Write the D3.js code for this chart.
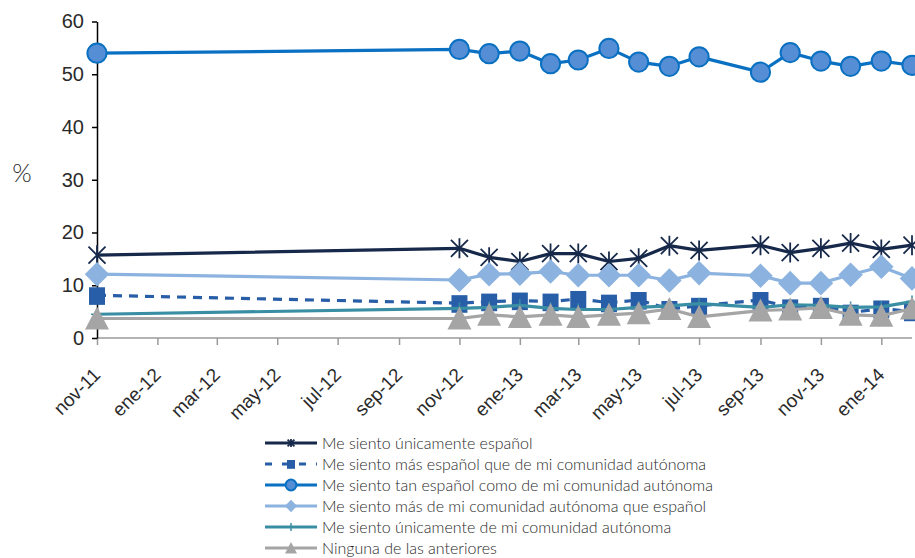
<!DOCTYPE html>
<html>
<head>
<meta charset="utf-8">
<script src="https://cdn.jsdelivr.net/npm/d3@7"></script>
<style>
  body { margin: 0; background: #fff; }
  svg { display: block; font-family: Lato, "Open Sans", sans-serif; font-weight: 300; }
</style>
</head>
<body>
<div id="chart"></div>
<script>
// survey months (CIS barometers)
const months = ["2011-11", "2012-11", "2012-12", "2013-01", "2013-02", "2013-03", "2013-04", "2013-05",
    "2013-06", "2013-07", "2013-09", "2013-10", "2013-11", "2013-12", "2014-01", "2014-02"];

const soloEspanol   = [15.7, 17.0, 15.3, 14.5, 16.0, 16.0, 14.5, 15.1, 17.5, 16.6, 17.6, 16.2, 17.0, 18.0, 16.8, 17.6];
const masEspanol    = [8.1, 6.6, 6.9, 7.1, 6.9, 7.4, 6.7, 7.2, 5.5, 6.1, 7.2, 5.8, 6.1, 4.8, 5.6, 5.0];
const tanEspanol    = [54.0, 54.7, 53.9, 54.4, 52.0, 52.7, 54.9, 52.3, 51.5, 53.3, 50.4, 54.1, 52.5, 51.5, 52.5, 51.7];
const masComunidad  = [12.1, 11.0, 12.1, 12.2, 12.6, 11.9, 11.9, 11.9, 10.9, 12.3, 11.8, 10.4, 10.4, 12.0, 13.5, 11.3];
const soloComunidad = [4.5, 5.6, 5.8, 6.2, 5.6, 5.4, 5.4, 5.8, 6.1, 6.5, 5.8, 6.3, 6.2, 5.8, 5.9, 6.9];
const ninguna       = [3.7, 3.7, 4.4, 4.0, 4.4, 4.0, 4.4, 4.7, 5.5, 4.0, 5.2, 5.4, 5.7, 4.4, 4.2, 5.6];

const tickLabels = ["nov-11", "ene-12", "mar-12", "may-12", "jul-12", "sep-12", "nov-12",
    "ene-13", "mar-13", "may-13", "jul-13", "sep-13", "nov-13", "ene-14"];
const yTicks = [0, 10, 20, 30, 40, 50, 60];

const series = [
    { name: "Me siento únicamente español", values: soloEspanol, color: "#17294a", marker: "star", dash: null },
    { name: "Me siento tan español como de mi comunidad autónoma", values: tanEspanol, color: "#0a70c2", marker: "circle", dash: null },
    { name: "Me siento más de mi comunidad autónoma que español", values: masComunidad, color: "#8cb3e0", marker: "diamond", dash: null },
    { name: "Me siento más español que de mi comunidad autónoma", values: masEspanol, color: "#285ea8", marker: "square", dash: "9,7" },
    { name: "Me siento únicamente de mi comunidad autónoma", values: soloComunidad, color: "#3a8ea3", marker: "plus", dash: null },
    { name: "Ninguna de las anteriores", values: ninguna, color: "#a5a5a5", marker: "triangle", dash: null }
];
const legendOrder = [0, 3, 1, 2, 4, 5];

const width = 915, height = 558;
const parseMonth = d3.timeParse("%Y-%m");
const dates = months.map(parseMonth);

const x = d3.scaleTime()
    .domain([parseMonth("2011-11"), parseMonth("2014-02")])
    .range([97, 912]);
const y = d3.scaleLinear().domain([0, 60]).range([338, 21.5]);

const svg = d3.select("#chart").append("svg")
    .attr("width", width)
    .attr("height", height);

// x axis
const tickDates = tickLabels.map((t, i) => d3.timeMonth.offset(parseMonth("2011-11"), i * 2));
const xAxis = svg.append("g")
    .attr("transform", `translate(0,${y(0)})`)
    .call(d3.axisBottom(x).tickValues(tickDates).tickSize(7).tickFormat((d, i) => tickLabels[i]));
xAxis.select(".domain").attr("stroke", "#9a9a9a").attr("stroke-width", 1.5)
    .attr("d", `M${x.range()[0]},0H${x.range()[1]}`);
xAxis.selectAll(".tick line").attr("stroke", "#9a9a9a").attr("stroke-width", 1.5);
xAxis.selectAll(".tick text")
    .attr("fill", "#2a2a2a")
    .style("font-size", "19px")
    .attr("text-anchor", "end")
    .attr("y", 0).attr("dx", 0).attr("dy", 0)
    .attr("transform", "translate(4,38) rotate(-45)");

// y axis
const yAxis = svg.append("g")
    .attr("transform", `translate(${x.range()[0]},0)`)
    .call(d3.axisLeft(y).tickValues(yTicks).tickSize(5).tickSizeOuter(0));
yAxis.select(".domain").attr("stroke", "#000").attr("stroke-width", 1.5);
yAxis.selectAll(".tick line").attr("stroke", "#000").attr("stroke-width", 1.5);
yAxis.selectAll(".tick text")
    .attr("fill", "#2a2a2a")
    .attr("x", -13)
    .style("font-size", "20px");

svg.append("text")
    .attr("x", 22).attr("y", 182)
    .attr("text-anchor", "middle")
    .attr("fill", "#2a2a2a")
    .style("font-size", "25px")
    .text("%");

// marker drawing
function drawMarker(g, type, color, s) {
    if (type === "circle") {
        g.append("circle").attr("r", s * 0.6).attr("fill", "#558ed5").attr("stroke", color).attr("stroke-width", 2);
    } else if (type === "square") {
        g.append("rect").attr("x", -s / 2).attr("y", -s / 2).attr("width", s).attr("height", s * 1.1).attr("fill", color);
    } else if (type === "diamond") {
        g.append("path").attr("d", d3.symbol(d3.symbolDiamond2, s * s * 1.5)).attr("fill", color);
    } else if (type === "triangle") {
        const h = s * 1.25;
        g.append("path").attr("d", `M0,${-h * 0.6}L${h * 0.6},${h * 0.55}L${-h * 0.6},${h * 0.55}Z`).attr("fill", color);
    } else if (type === "plus") {
        const r = s / 2;
        g.append("path").attr("d", `M${-r},0H${r}M0,${-r}V${r}`).attr("stroke", color).attr("stroke-width", 1.5);
    } else if (type === "star") {
        const r = s / 2;
        g.append("path")
            .attr("d", `M0,${-r}V${r}M${-r * 0.85},${-r * 0.85}L${r * 0.85},${r * 0.85}M${-r * 0.85},${r * 0.85}L${r * 0.85},${-r * 0.85}`)
            .attr("stroke", color).attr("stroke-width", 1.8).attr("fill", "none");
    }
}

const line = d3.line().x(d => x(d.date)).y(d => y(d.value));

const plot = svg.append("g");
series.forEach(s => {
    const pts = s.values.map((v, i) => ({ date: dates[i], value: v }));
    plot.append("path")
        .datum(pts)
        .attr("fill", "none")
        .attr("stroke", s.color)
        .attr("stroke-width", 3.2)
        .attr("stroke-linejoin", "round")
        .attr("stroke-dasharray", s.dash)
        .attr("d", line);
    const size = s.marker === "star" ? 20 : s.marker === "plus" ? 12 : 16;
    pts.forEach(p => {
        const g = plot.append("g").attr("transform", `translate(${x(p.date)},${y(p.value)})`);
        drawMarker(g, s.marker, s.color, size);
    });
});

// legend
const legend = svg.append("g");
legendOrder.forEach((idx, row) => {
    const s = series[idx];
    const ly = 443 + row * 21;
    legend.append("line")
        .attr("x1", 265).attr("x2", 317)
        .attr("y1", ly).attr("y2", ly)
        .attr("stroke", s.color).attr("stroke-width", 3)
        .attr("stroke-dasharray", s.dash ? "7,10" : null);
    const g = legend.append("g").attr("transform", `translate(291,${ly})`);
    drawMarker(g, s.marker, s.color, s.marker === "circle" ? 9 : 8);
    legend.append("text")
        .attr("x", 322).attr("y", ly + 6)
        .attr("fill", "#2a2a2a")
        .style("font-size", "16px")
        .text(s.name);
});
</script>
</body>
</html>
